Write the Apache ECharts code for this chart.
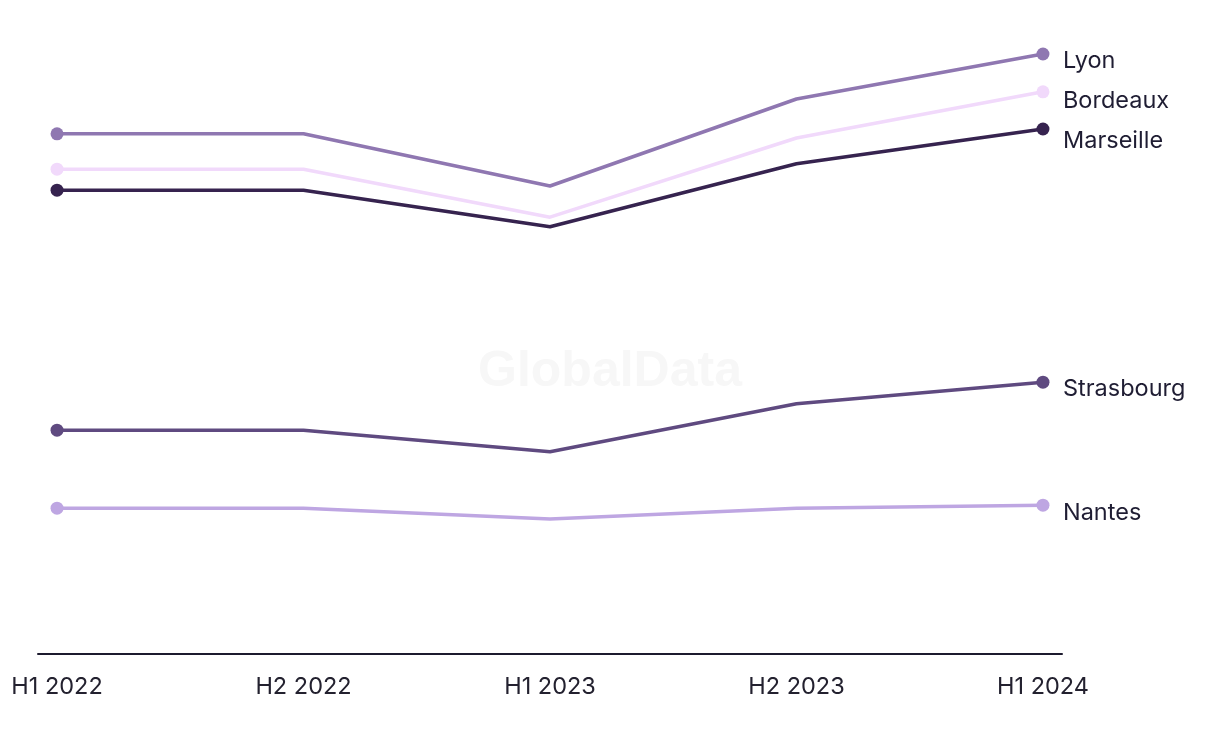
<!DOCTYPE html>
<html>
<head>
<meta charset="utf-8">
<script src="https://cdn.jsdelivr.net/npm/echarts@6/dist/echarts.min.js"></script>
<style>html,body{margin:0;padding:0;background:#fff}#c{width:1220px;height:744px}</style>
</head>
<body>
<div id="c"></div>
<script>
const categories = ['H1 2022', 'H2 2022', 'H1 2023', 'H2 2023', 'H1 2024'];
const lyon = [86.7, 86.7, 78.0, 92.5, 100.0];
const bordeaux = [80.8, 80.8, 72.8, 86.0, 93.7];
const marseille = [77.3, 77.3, 71.2, 81.7, 87.5];
const strasbourg = [37.3, 37.3, 33.7, 41.7, 45.3];
const nantes = [24.3, 24.3, 22.5, 24.3, 24.8];

const seriesDefs = [
  { name: 'Lyon', data: lyon, color: '#8f77b1', off: 7 },
  { name: 'Bordeaux', data: bordeaux, color: '#f1d9fb', off: 9 },
  { name: 'Marseille', data: marseille, color: '#36234f', off: 12 },
  { name: 'Strasbourg', data: strasbourg, color: '#5f4a80', off: 7 },
  { name: 'Nantes', data: nantes, color: '#bea6e2', off: 8 }
];

const chart = echarts.init(document.getElementById('c'));
const font = 'Inter, Roboto, "Noto Sans", sans-serif';
chart.setOption({
  animation: false,
  grid: { left: 38, right: 158, top: 54, bottom: 90, containLabel: false },
  graphic: [{
    type: 'text', left: 'center', top: 347,
    style: { text: 'GlobalData', fontSize: 50, fontWeight: 'bold', fill: '#f7f7f7', fontFamily: 'Arial, "Liberation Sans", sans-serif' },
    z: 0
  }],
  xAxis: {
    type: 'value', min: -0.0772, max: 4.0772,
    splitLine: { show: false },
    axisLine: { show: true, lineStyle: { color: '#1c1a2e', width: 2 } },
    axisTick: { show: false },
    axisLabel: {
      customValues: [0, 1, 2, 3, 4],
      formatter: v => categories[Math.round(v)],
      fontSize: 23.5, color: '#23212f', fontFamily: font, margin: 21
    }
  },
  yAxis: {
    type: 'value', min: 0, max: 100, show: false, splitLine: { show: false }
  },
  series: seriesDefs.map(s => ({
    name: s.name,
    type: 'line',
    data: s.data.map((v, i) => ({
      value: [i, v],
      symbolSize: (i === 0 || i === s.data.length - 1) ? 13 : 0
    })),
    symbol: 'circle',
    showSymbol: true,
    lineStyle: { width: 3.5, color: s.color },
    itemStyle: { color: s.color },
    z: 3,
    endLabel: {
      show: true,
      formatter: '{a}',
      fontSize: 23.5, color: '#1f1d33', fontFamily: font,
      distance: 20,
      offset: [0, s.off]
    }
  }))
});
</script>
</body>
</html>
